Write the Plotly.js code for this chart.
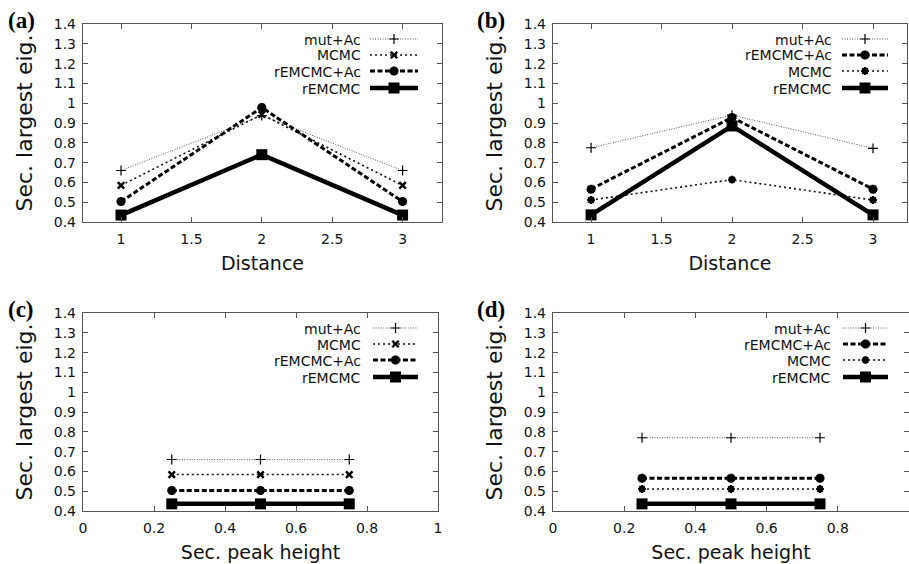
<!DOCTYPE html>
<html><head><meta charset="utf-8">
<script src="https://cdn.plot.ly/plotly-3.0.1.min.js"></script>
<style>html,body{margin:0;padding:0;background:#fff}</style>
</head><body><div id="chart" style="width:909px;height:564px"></div>
<script>
// ---- data ----
const distance = [1, 2, 3];
const peakHeight = [0.25, 0.5, 0.75];
const yTicks = [0.4, 0.5, 0.6, 0.7, 0.8, 0.9, 1, 1.1, 1.2, 1.3, 1.4];
const distTicks = [1, 1.5, 2, 2.5, 3];
const peakTicks = [0, 0.2, 0.4, 0.6, 0.8, 1];

const aMutAc    = [0.66, 0.937, 0.66];
const aMCMC     = [0.585, 0.943, 0.585];
const aREMCMCAc = [0.503, 0.978, 0.503];
const aREMCMC   = [0.435, 0.74, 0.435];

const bMutAc    = [0.775, 0.94, 0.772];
const bREMCMCAc = [0.566, 0.928, 0.566];
const bMCMC     = [0.511, 0.614, 0.511];
const bREMCMC   = [0.436, 0.885, 0.436];

const cMutAc    = [0.66, 0.66, 0.66];
const cMCMC     = [0.584, 0.584, 0.584];
const cREMCMCAc = [0.504, 0.504, 0.504];
const cREMCMC   = [0.436, 0.436, 0.436];

const dMutAc    = [0.77, 0.77, 0.77];
const dREMCMCAc = [0.566, 0.566, 0.566];
const dMCMC     = [0.511, 0.511, 0.511];
const dREMCMC   = [0.436, 0.436, 0.436];

// ---- styles ----
const W = 909, H = 564;
const FONT = 'DejaVu Sans, Liberation Sans, Arial, sans-serif';
const styles = {
  mutAc:  {line:{color:'#555', width:1, dash:'1px,1.5px'}, marker:{symbol:'cross-thin', size:7, color:'#000', line:{width:1.2, color:'#000'}}},
  mcmcX:  {line:{color:'#111', width:1.6, dash:'2px,3px'}, marker:{symbol:'x-thin', size:6.5, color:'#000', line:{width:2.4, color:'#000'}}},
  mcmcS:  {line:{color:'#111', width:1.6, dash:'2px,3px'}, marker:{symbol:'asterisk', size:6.5, color:'#000', line:{width:2.2, color:'#000'}}},
  remAc:  {line:{color:'#000', width:3, dash:'5px,2.5px'}, marker:{symbol:'asterisk', size:7.5, color:'#000', line:{width:3, color:'#000'}}},
  rem:    {line:{color:'#000', width:4.5}, marker:{symbol:'square', size:11, color:'#000', line:{width:0}}}
};

const panels = [
  {letter:'(a)', L:83, R:442, T:24, B:222, xr:[0.73, 3.28], x:distance, xt:distTicks, xtitle:'Distance',
   series:[['mut+Ac', aMutAc, 'mutAc'], ['MCMC', aMCMC, 'mcmcX'], ['rEMCMC+Ac', aREMCMCAc, 'remAc'], ['rEMCMC', aREMCMC, 'rem']],
   leg:{tr:362, l0:370, l1:418, rows:[39, 55, 71, 88]}},
  {letter:'(b)', L:553, R:907, T:24, B:222, xr:[0.73, 3.241], x:distance, xt:distTicks, xtitle:'Distance',
   series:[['mut+Ac', bMutAc, 'mutAc'], ['rEMCMC+Ac', bREMCMCAc, 'remAc'], ['MCMC', bMCMC, 'mcmcS'], ['rEMCMC', bREMCMC, 'rem']],
   leg:{tr:833, l0:842, l1:888, rows:[39, 55, 71, 88]}},
  {letter:'(c)', L:83, R:438, T:313, B:511, xr:[0, 1], x:peakHeight, xt:peakTicks, xtitle:'Sec. peak height',
   series:[['mut+Ac', cMutAc, 'mutAc'], ['MCMC', cMCMC, 'mcmcX'], ['rEMCMC+Ac', cREMCMCAc, 'remAc'], ['rEMCMC', cREMCMC, 'rem']],
   leg:{tr:362, l0:373, l1:418, rows:[328, 344, 360, 377]}},
  {letter:'(d)', L:553, R:909, T:313, B:511, xr:[0, 1], x:peakHeight, xt:peakTicks, xtitle:'Sec. peak height',
   series:[['mut+Ac', dMutAc, 'mutAc'], ['rEMCMC+Ac', dREMCMCAc, 'remAc'], ['MCMC', dMCMC, 'mcmcS'], ['rEMCMC', dREMCMC, 'rem']],
   leg:{tr:832, l0:843, l1:888, rows:[328, 344, 360, 377]}}
];

const traces = [];
const layout = {
  width: W, height: H, margin:{l:0, r:0, t:0, b:0},
  paper_bgcolor:'#fff', plot_bgcolor:'#fff', showlegend:false,
  font:{family:FONT, color:'#111'}, annotations:[]
};

panels.forEach((p, i) => {
  const n = i + 1;
  const xa = 'x' + (n === 1 ? '' : n), ya = 'y' + (n === 1 ? '' : n);
  const xk = 'xaxis' + (n === 1 ? '' : n), yk = 'yaxis' + (n === 1 ? '' : n);
  const axCommon = {showline:true, mirror:'ticks', ticks:'inside', ticklen:5, tickwidth:1,
    tickcolor:'#555', linecolor:'#555', linewidth:1.2, showgrid:false, zeroline:false,
    tickfont:{family:FONT, size:14, color:'#111'}, fixedrange:true};
  layout[xk] = Object.assign({}, axCommon, {domain:[p.L / W, p.R / W], range:p.xr, anchor:ya,
    tickmode:'array', tickvals:p.xt, ticktext:p.xt.map(String), ticklabelstandoff:4,
    title:{text:p.xtitle, font:{family:FONT, size:19, color:'#111'}, standoff:10}});
  layout[yk] = Object.assign({}, axCommon, {domain:[1 - p.B / H, 1 - p.T / H], range:[0.4, 1.4], anchor:xa,
    tickmode:'array', tickvals:yTicks, ticktext:yTicks.map(String), ticklabelstandoff:3,
    title:{text:'Sec. largest eig.', font:{family:FONT, size:22, color:'#111'}, standoff:15}});

  const px2x = px => p.xr[0] + (px - p.L) / (p.R - p.L) * (p.xr[1] - p.xr[0]);
  const py2y = py => 1.4 - (py - p.T) / (p.B - p.T) * 1.0;

  p.series.forEach((s, k) => {
    const st = styles[s[2]];
    traces.push({type:'scatter', mode:'lines+markers', name:s[0], x:p.x, y:s[1], xaxis:xa, yaxis:ya,
      line:st.line, marker:st.marker, cliponaxis:false, hoverinfo:'x+y+name'});
    // legend key sample (gnuplot style: text then sample)
    const yy = py2y(p.leg.rows[k]);
    const xm = px2x((p.leg.l0 + p.leg.l1) / 2);
    traces.push({type:'scatter', mode:'lines', x:[px2x(p.leg.l0), px2x(p.leg.l1)], y:[yy, yy],
      xaxis:xa, yaxis:ya, line:st.line, hoverinfo:'skip', showlegend:false});
    traces.push({type:'scatter', mode:'markers', x:[xm], y:[yy], xaxis:xa, yaxis:ya,
      marker:st.marker, hoverinfo:'skip', showlegend:false});
    layout.annotations.push({xref:'paper', yref:'paper', x:p.leg.tr / W, y:1 - p.leg.rows[k] / H,
      xanchor:'right', yanchor:'middle', showarrow:false, text:s[0], height:15, borderpad:0,
      font:{family:FONT, size:14, color:'#111'}});
  });
  layout.annotations.push({xref:'paper', yref:'paper', x:(p.L - 62) / W, y:1 - (p.T - 4) / H,
    xanchor:'center', yanchor:'middle', showarrow:false, text:'<b>' + p.letter + '</b>',
    font:{family:'Liberation Serif, Times New Roman, serif', size:23, color:'#000'}});
});

Plotly.newPlot('chart', traces, layout, {displayModeBar:false, staticPlot:true});
</script>
</body></html>
